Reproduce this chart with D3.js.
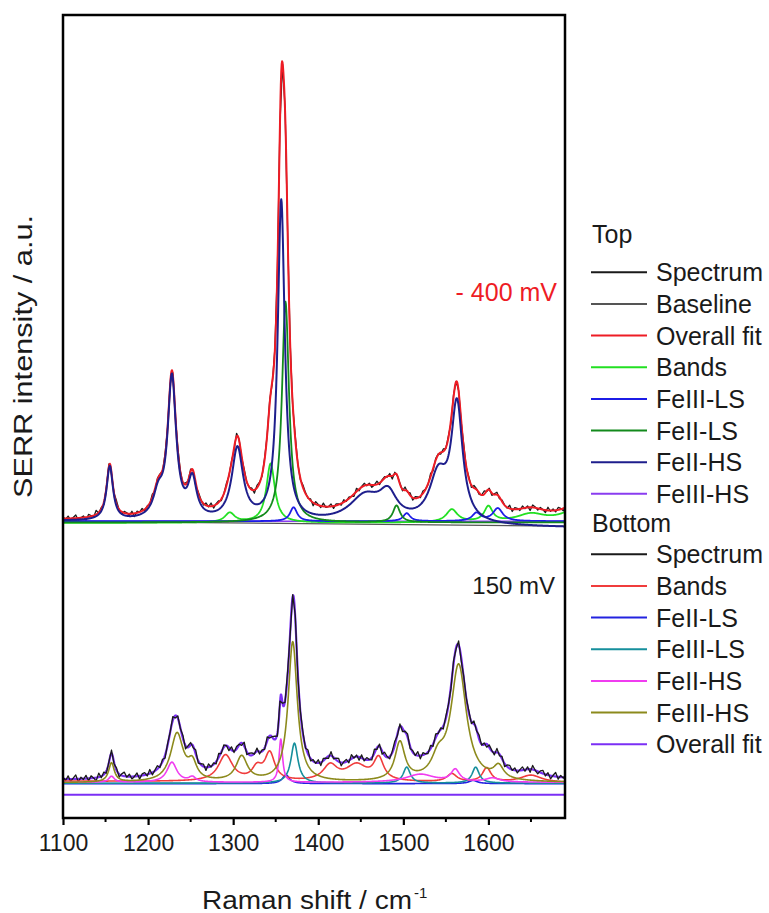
<!DOCTYPE html>
<html><head><meta charset="utf-8">
<script src="https://cdn.jsdelivr.net/npm/d3@7"></script>
<style>
body{margin:0;background:#fff}
svg{display:block;font-family:"Liberation Sans",Arial,Helvetica,sans-serif}
</style>
</head><body>
<svg id="chart" width="769" height="913"></svg>
<script>
// ---- axis settings ----
const xDomain = [1100, 1690];
const yDomain = [0, 100.4];
const xTickValues = [1100, 1200, 1300, 1400, 1500, 1600];
const xMinorTicks = [1150, 1250, 1350, 1450, 1550, 1650];

// ---- band tables: [centre / cm-1, height / a.u., FWHM / cm-1] ----
// -400 mV spectrum (upper trace)
const topBaseLevel = 37.25;
const topFeIIHS = [[1155, 6.75, 9], [1212, 2.75, 14], [1228, 17.7, 12], [1252, 4.75, 12],
  [1305, 9.0, 16], [1356.5, 40.1, 10], [1455, 3.25, 45], [1482, 3.1, 25], [1541, 5.6, 25], [1563, 14.4, 16]];
const topFeIILS = [[1361.5, 27.6, 10], [1492, 2.1, 10]];
const topBands = [[1296, 1.2, 14], [1344, 7.4, 12], [1557, 1.6, 16], [1600, 1.9, 12], [1650, 1.0, 40], [1705, 1.8, 40]];
const topFeIIILS = [[1371, 1.75, 10], [1504, 1.0, 10], [1586, 1.0, 12], [1611, 1.6, 14]];
const topFeIIIHS = [];
// component offsets at 1100 and 1690 cm-1
const topOffsets = {bands: [36.9, 36.9], feiiils: [37.1, 37.1], feiils: [36.95, 36.95], feiihs: [37.1, 36.3], feiiihs: [37.1, 37.1], baseline: [37.1, 36.5]};

// 150 mV spectrum (lower trace)
const botBaseLevel = 4.75;
const botFeIIIHS = [[1157, 2.4, 8], [1234, 6.0, 18], [1252, 2.0, 12], [1310, 3.1, 16], [1370, 17.5, 13],
  [1496, 4.75, 14], [1541, 2.25, 18], [1565, 14.5, 22], [1612, 1.6, 14]];
const botFeIIHS = [[1157, 0.75, 8], [1228, 2.5, 14], [1252, 0.6, 10], [1356, 5.4, 5], [1520, 1.0, 40], [1561, 1.5, 12], [1605, 0.5, 20]];
const botBands = [[1291, 3.25, 20], [1328, 1.5, 14], [1343, 3.4, 14], [1414, 1.9, 20], [1445, 2.0, 30], [1471, 2.75, 14],
  [1557, 1.0, 14], [1598, 1.75, 12], [1650, 0.9, 30]];
const botFeIIILS = [[1372, 5.0, 10], [1504, 2.0, 10], [1585, 2.0, 10]];
const botFeIILS = [[1362, 1.1, 10], [1582, 0.4, 12]];
const botOffsets = {bands: [4.6, 4.4], feiils: [4.3, 4.3], feiiils: [4.35, 4.35], feiihs: [4.45, 4.45], feiiihs: [4.4, 4.4]};
const botZeroLevel = 2.9;

// residuals of the measured spectra about the overall fit, every 3 cm-1 from 1100
const topResidual = [
  0.2,-0.1,0.3,-0.2,0.1,0.4,-0.3,0.0,0.2,-0.4,0.3,0.1,-0.2,0.5,-0.1,0.2,-0.3,0.1,0.3,-0.2,
  0.0,0.4,-0.1,-0.3,0.2,0.1,-0.2,0.3,-0.4,0.2,0.0,0.3,-0.2,0.1,-0.1,0.4,-0.3,0.2,0.1,-0.2,
  0.3,-0.1,0.0,0.2,-0.3,0.4,0.1,-0.2,0.2,-0.1,0.3,0.0,-0.4,0.2,0.1,-0.2,0.3,-0.1,0.4,-0.3,
  0.1,0.2,-0.2,0.0,0.3,-0.1,0.2,-0.3,0.4,0.1,-0.2,0.3,-0.1,0.0,0.2,-0.4,0.3,0.1,-0.2,0.2,
  -0.1,0.4,-0.3,0.2,0.0,0.1,-0.2,0.3,-0.1,0.2,-0.3,0.4,0.0,-0.2,0.3,0.1,-0.1,0.2,-0.4,0.3,
  0.1,-0.2,0.4,-0.1,0.0,0.3,-0.3,0.2,0.1,-0.2,0.3,-0.1,0.2,0.0,-0.3,0.4,-0.2,0.1,0.3,-0.1,
  0.2,-0.3,0.0,0.4,-0.2,0.1,0.2,-0.1,0.3,-0.4,0.2,0.0,0.1,-0.2,0.4,-0.1,0.3,-0.3,0.2,0.1,
  -0.2,0.3,0.0,-0.1,0.4,-0.3,0.2,0.1,-0.2,0.3,-0.1,0.2,-0.4,0.3,0.0,0.1,-0.2,0.4,-0.1,0.2,
  -0.3,0.3,0.1,-0.2,0.0,0.4,-0.1,0.2,-0.3,0.1,0.3,-0.2,0.2,0.0,-0.1,0.4,-0.3,0.2,0.1,-0.2,
  0.3,-0.1,0.2,-0.4,0.3,0.1,-0.2,0.2,0.0,-0.3,0.4,-0.1,0.2,-0.2,0.3,0.1,-0.3,0.2,-0.1,0.3];
const botResidual = [
  0.3,-0.2,0.4,-0.3,0.1,0.5,-0.4,0.2,-0.1,0.4,-0.3,0.3,0.0,-0.4,0.5,-0.2,0.3,-0.3,0.1,0.4,
  -0.2,0.3,-0.4,0.2,0.5,-0.1,0.3,-0.3,0.0,0.4,-0.4,0.2,0.3,-0.2,0.5,-0.3,0.1,0.4,-0.2,0.3,
  -0.4,0.2,0.0,0.5,-0.3,0.3,-0.1,0.4,-0.4,0.2,0.3,-0.2,0.5,-0.3,0.1,0.3,-0.4,0.4,-0.1,0.2,
  -0.3,0.5,-0.2,0.3,0.0,-0.4,0.4,-0.2,0.3,0.1,-0.3,0.5,-0.4,0.2,0.3,-0.1,0.4,-0.3,0.2,-0.2,
  0.5,-0.3,0.1,0.4,-0.4,0.3,0.0,-0.2,0.5,-0.3,0.2,0.4,-0.4,0.1,0.3,-0.2,0.5,-0.3,0.2,-0.1,
  0.4,-0.4,0.3,0.0,-0.3,0.5,-0.2,0.2,0.4,-0.4,0.1,0.3,-0.3,0.5,-0.1,0.2,-0.4,0.4,-0.2,0.3,
  0.0,-0.3,0.5,-0.2,0.3,-0.4,0.4,0.1,-0.3,0.2,0.5,-0.2,0.3,-0.4,0.1,0.4,-0.3,0.2,-0.1,0.5,
  -0.4,0.3,0.0,-0.2,0.4,-0.3,0.5,-0.1,0.2,-0.4,0.3,0.1,-0.3,0.4,-0.2,0.5,-0.4,0.2,0.0,0.3,
  -0.3,0.4,-0.2,0.5,-0.1,0.2,-0.4,0.3,0.1,-0.3,0.5,-0.2,0.3,-0.4,0.2,0.4,-0.1,0.3,-0.3,0.1,
  0.4,-0.2,0.3,-0.4,0.5,0.0,-0.3,0.2,0.4,-0.2,0.3,-0.4,0.1,0.5,-0.3,0.2,-0.1,0.4,-0.2,0.3];

// ---- legend entries ----
const legendTop = [
  ["Spectrum", "#1a1a1a"], ["Baseline", "#555555"], ["Overall fit", "#ee1c25"], ["Bands", "#22e022"],
  ["FeIII-LS", "#1c1ce6"], ["FeII-LS", "#138a1c"], ["FeII-HS", "#1e1e8c"], ["FeIII-HS", "#8a3cf0"]];
const legendBottom = [
  ["Spectrum", "#1a1a1a"], ["Bands", "#f03c3c"], ["FeII-LS", "#2323e0"], ["FeIII-LS", "#168f9c"],
  ["FeII-HS", "#f03cf0"], ["FeIII-HS", "#8c8a1c"], ["Overall fit", "#7b2ff5"]];
const col = Object.fromEntries(legendTop.map(d => ["top " + d[0], d[1]]).concat(legendBottom.map(d => ["bot " + d[0], d[1]])));

// ---- layout ----
const svg = d3.select("#chart");
const plot = {left: 63, right: 565, top: 15, bottom: 818};
const x = d3.scaleLinear().domain(xDomain).range([plot.left, plot.right]);
const y = d3.scaleLinear().domain(yDomain).range([plot.bottom, plot.top]);

svg.append("defs").append("clipPath").attr("id", "plotclip")
  .append("rect").attr("x", plot.left).attr("y", plot.top)
  .attr("width", plot.right - plot.left).attr("height", plot.bottom - plot.top);

// Lorentzian band sum
const bandSum = (bands, v) => d3.sum(bands, b => b[1] / (1 + Math.pow((v - b[0]) / (b[2] / 2), 2)));
const offsetAt = (o, v) => o[0] + (o[1] - o[0]) * (v - xDomain[0]) / (xDomain[1] - xDomain[0]);

const grid = d3.range(xDomain[0], xDomain[1] + 0.25, 0.5);
const line = d3.line().x(d => x(d[0])).y(d => y(d[1]));
const g = svg.append("g").attr("clip-path", "url(#plotclip)");

function draw(points, color, width) {
  g.append("path").datum(points).attr("fill", "none").attr("stroke", color)
    .attr("stroke-width", width).attr("stroke-linejoin", "round").attr("d", line);
}
const component = (bands, off) => grid.map(v => [v, offsetAt(off, v) + bandSum(bands, v)]);

// upper trace
const topAll = [].concat(topFeIIHS, topFeIILS, topBands, topFeIIILS, topFeIIIHS);
const topFit = v => topBaseLevel + bandSum(topAll, v);
const topSpectrum = topResidual.map((r, i) => { const v = xDomain[0] + 3 * i; return [v, topFit(v) + r]; });
draw(topSpectrum, col["top Spectrum"], 1.3);
draw([[xDomain[0], topOffsets.baseline[0]], [xDomain[1], topOffsets.baseline[1]]], col["top Baseline"], 1.3);
draw(grid.map(v => [v, topFit(v)]), col["top Overall fit"], 2);
draw(component(topFeIIIHS, topOffsets.feiiihs), col["top FeIII-HS"], 1.6);
draw(component(topBands, topOffsets.bands), col["top Bands"], 1.8);
draw(component(topFeIIILS, topOffsets.feiiils), col["top FeIII-LS"], 1.8);
draw(component(topFeIILS, topOffsets.feiils), col["top FeII-LS"], 1.8);
draw(component(topFeIIHS, topOffsets.feiihs), col["top FeII-HS"], 2);

// lower trace
const botAll = [].concat(botFeIIIHS, botFeIIHS, botBands, botFeIIILS, botFeIILS);
const botFit = v => botBaseLevel + bandSum(botAll, v);
draw([[xDomain[0], botZeroLevel], [xDomain[1], botZeroLevel]], col["bot Overall fit"], 2);
const botSpectrum = botResidual.map((r, i) => { const v = xDomain[0] + 3 * i; return [v, botFit(v) + r]; });
draw(grid.map(v => [v, botFit(v)]), col["bot Overall fit"], 2.2);
draw(botSpectrum, col["bot Spectrum"], 1.3);
draw(component(botFeIILS, botOffsets.feiils), col["bot FeII-LS"], 1.6);
draw(component(botBands, botOffsets.bands), col["bot Bands"], 1.6);
draw(component(botFeIIILS, botOffsets.feiiils), col["bot FeIII-LS"], 1.6);
draw(component(botFeIIHS, botOffsets.feiihs), col["bot FeII-HS"], 1.6);
draw(component(botFeIIIHS, botOffsets.feiiihs), col["bot FeIII-HS"], 1.6);

// ---- frame and axis ----
svg.append("rect").attr("x", plot.left).attr("y", plot.top)
  .attr("width", plot.right - plot.left).attr("height", plot.bottom - plot.top)
  .attr("fill", "none").attr("stroke", "#000").attr("stroke-width", 2.5);

const xAxis = svg.append("g").attr("transform", `translate(0,${plot.bottom})`)
  .call(d3.axisBottom(x).tickValues(xTickValues).tickSize(7).tickPadding(10).tickFormat(d3.format("d")));
xAxis.select(".domain").remove();
xAxis.selectAll(".tick line").attr("stroke-width", 2.2);
xAxis.selectAll(".tick text").attr("font-size", 23).attr("fill", "#1a1a1a").attr("font-family", null);
svg.append("g").attr("transform", `translate(0,${plot.bottom})`)
  .selectAll("line").data(xMinorTicks).join("line")
  .attr("x1", d => x(d)).attr("x2", d => x(d)).attr("y1", 0).attr("y2", 4)
  .attr("stroke", "#000").attr("stroke-width", 2);

const xt = svg.append("text").attr("x", 202).attr("y", 909)
  .attr("font-size", 25).attr("fill", "#1a1a1a");
xt.append("tspan").attr("textLength", 210).attr("lengthAdjust", "spacingAndGlyphs").text("Raman shift / cm");
xt.append("tspan").attr("font-size", 15).attr("dy", -11).attr("dx", 2).text("-1");

svg.append("text").attr("transform", "translate(32,356.5) rotate(-90)")
  .attr("text-anchor", "middle").attr("font-size", 26).attr("fill", "#1a1a1a")
  .attr("textLength", 283).attr("lengthAdjust", "spacingAndGlyphs")
  .text("SERR intensity / a.u.");

// ---- trace annotations ----
svg.append("text").attr("x", 557).attr("y", 301).attr("text-anchor", "end")
  .attr("font-size", 25).attr("fill", "#ee1c25").text("- 400 mV");
svg.append("text").attr("x", 555).attr("y", 594).attr("text-anchor", "end")
  .attr("font-size", 24).attr("fill", "#1a1a1a").text("150 mV");

// ---- legend ----
function legend(title, titleY, items, firstY) {
  const lg = svg.append("g").attr("font-size", 25).attr("fill", "#1a1a1a");
  lg.append("text").attr("x", 592).attr("y", titleY).text(title);
  items.forEach((d, i) => {
    const yy = firstY + i * 31.65;
    lg.append("line").attr("x1", 591).attr("x2", 647).attr("y1", yy).attr("y2", yy)
      .attr("stroke", d[1]).attr("stroke-width", 2);
    lg.append("text").attr("x", 656).attr("y", yy + 9).text(d[0]);
  });
}
legend("Top", 243, legendTop, 272.3);
legend("Bottom", 532, legendBottom, 554.3);
</script>
</body></html>
